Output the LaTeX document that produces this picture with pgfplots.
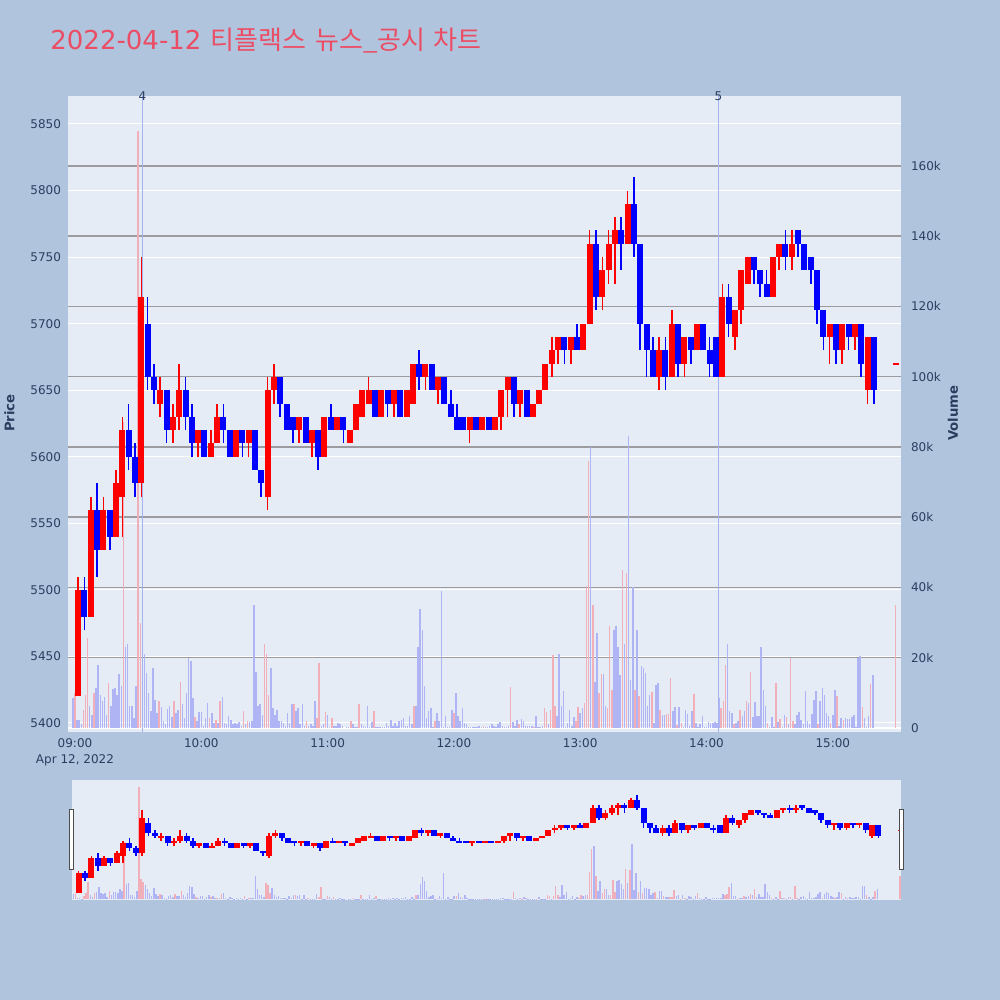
\documentclass[border=0pt]{standalone}
\usepackage{fontspec}
\setmainfont{DejaVu Sans}
\newfontfamily\cjk{Noto Sans CJK KR}
\usepackage{pgfplots}
\usepackage{pgfplotstable}
\pgfplotsset{compat=1.18}

\definecolor{figbg}{HTML}{B0C4DE}
\definecolor{plotbg}{HTML}{E5ECF6}
\definecolor{txt}{HTML}{2A3F5F}
\definecolor{ttl}{HTML}{EB4D64}
\definecolor{volr}{RGB}{240,175,185}
\definecolor{volb}{RGB}{175,180,245}
\definecolor{gridgray}{RGB}{155,155,160}
\definecolor{evt}{RGB}{165,178,240}

\newcommand{\tickfont}{\fontsize{6}{8}\selectfont}

% 3-minute candles: start minute after 09:00, open, high, low, close
\pgfplotstableread{
t o h l c
0 5420 5510 5420 5500
3 5500 5510 5470 5480
6 5480 5570 5480 5560
9 5560 5580 5510 5530
12 5530 5570 5530 5560
15 5560 5560 5530 5540
18 5540 5590 5540 5580
21 5570 5630 5540 5620
24 5620 5640 5590 5600
27 5600 5610 5570 5580
30 5580 5750 5570 5720
33 5700 5720 5650 5660
36 5660 5670 5640 5650
39 5640 5660 5630 5650
42 5650 5650 5610 5620
45 5620 5640 5610 5630
48 5630 5670 5620 5650
51 5650 5660 5620 5630
54 5630 5640 5600 5610
57 5610 5620 5600 5620
60 5620 5620 5600 5600
63 5600 5620 5600 5610
66 5610 5640 5610 5630
69 5630 5640 5610 5620
72 5620 5620 5600 5600
75 5600 5620 5600 5620
78 5620 5620 5600 5610
81 5610 5620 5600 5620
84 5620 5620 5590 5590
87 5590 5590 5570 5580
90 5570 5660 5560 5650
93 5650 5670 5640 5660
96 5660 5660 5630 5640
99 5640 5640 5620 5620
102 5630 5630 5610 5620
105 5620 5630 5610 5630
108 5630 5630 5610 5610
111 5610 5620 5600 5620
114 5620 5620 5590 5600
117 5600 5630 5600 5630
120 5630 5640 5620 5620
123 5620 5630 5620 5630
126 5630 5630 5610 5620
129 5610 5620 5610 5620
132 5620 5640 5620 5640
135 5630 5650 5630 5650
138 5640 5660 5640 5650
141 5650 5650 5630 5630
144 5630 5650 5630 5650
147 5650 5650 5630 5640
150 5640 5650 5630 5650
153 5650 5650 5630 5630
156 5630 5650 5630 5650
159 5640 5670 5640 5670
162 5670 5680 5650 5660
165 5660 5670 5650 5670
168 5670 5670 5650 5650
171 5650 5660 5640 5660
174 5660 5660 5640 5640
177 5640 5650 5630 5630
180 5630 5640 5620 5620
183 5630 5630 5620 5620
186 5620 5630 5610 5630
189 5630 5630 5620 5620
192 5620 5630 5620 5630
195 5630 5630 5620 5620
198 5620 5630 5620 5630
201 5630 5650 5620 5650
204 5650 5660 5630 5660
207 5660 5660 5630 5640
210 5640 5650 5630 5650
213 5650 5650 5630 5630
216 5630 5640 5630 5640
219 5640 5650 5640 5650
222 5650 5670 5650 5670
225 5670 5690 5660 5680
228 5680 5690 5670 5690
231 5690 5690 5670 5680
234 5680 5690 5670 5690
237 5690 5700 5680 5680
240 5680 5700 5680 5700
243 5700 5770 5700 5760
246 5760 5770 5710 5720
249 5720 5750 5710 5740
252 5740 5770 5730 5760
255 5760 5780 5730 5770
258 5770 5780 5740 5760
261 5760 5800 5760 5790
264 5790 5810 5750 5760
267 5760 5760 5680 5700
270 5700 5700 5660 5680
273 5680 5690 5660 5660
276 5660 5690 5650 5680
279 5680 5690 5650 5660
282 5660 5710 5660 5700
285 5700 5700 5660 5670
288 5670 5690 5660 5690
291 5690 5690 5670 5680
294 5680 5700 5680 5700
297 5700 5700 5680 5680
300 5680 5690 5660 5670
303 5690 5690 5660 5660
306 5660 5730 5660 5720
309 5720 5730 5690 5700
312 5690 5710 5680 5710
315 5710 5740 5700 5740
318 5730 5750 5730 5750
321 5750 5750 5730 5740
324 5740 5740 5720 5730
327 5730 5740 5720 5720
330 5720 5750 5720 5750
333 5750 5760 5740 5760
336 5760 5770 5740 5750
339 5750 5770 5740 5760
342 5770 5770 5750 5760
345 5760 5760 5740 5740
348 5750 5750 5730 5740
351 5740 5740 5700 5710
354 5710 5710 5680 5690
357 5690 5700 5670 5700
360 5700 5700 5670 5680
363 5680 5700 5670 5700
366 5700 5700 5680 5690
369 5690 5700 5680 5700
372 5700 5700 5660 5670
375 5650 5690 5640 5690
378 5690 5690 5640 5650
388.5 5670 5670 5670 5670
}\candles

% volume per minute, thousands of shares; d=1 rising (red), d=0 falling (blue)
\pgfplotstableread[row sep=\\]{
t v d\\
0 8.6 0\\ 1 10 1\\ 2 2.4 0\\ 3 2.4 0\\ 4 1 0\\ 5 5.2 1\\ 6 9.5 1\\ 7 25.7 1\\ 8 6.2 0\\ 9 3.8 0\\
10 10 1\\ 11 11.4 0\\ 12 18 0\\ 13 9.3 0\\ 14 7.8 0\\ 15 8.8 0\\ 16 3.8 0\\ 17 12.9 1\\ 18 6.2 0\\ 19 11 0\\
20 11.4 0\\ 21 9.5 0\\ 22 15.4 0\\ 23 11.9 0\\ 24 87 1\\ 25 23 0\\ 26 24 0\\ 27 6.2 0\\ 28 6.2 0\\ 29 2.9 0\\
30 11.9 0\\ 31 170 1\\ 32 30 1\\ 33 26 1\\ 34 21 0\\ 35 15.7 0\\ 36 10 0\\ 37 4.8 0\\ 38 17 0\\ 39 8.1 0\\
40 4.3 0\\ 41 7.8 1\\ 42 5.9 0\\ 43 2.1 0\\ 44 1 0\\ 45 5.5 0\\ 46 6.2 0\\ 47 3 0\\ 48 7.6 1\\ 49 4.3 0\\
50 5.2 0\\ 51 13 1\\ 52 6.7 0\\ 53 2.9 0\\ 54 10 0\\ 55 20 0\\ 56 19 0\\ 57 8.6 0\\ 58 3 1\\ 59 1.9 0\\
60 4.6 0\\ 61 4.6 0\\ 62 0.5 0\\ 63 2.9 0\\ 64 7.1 0\\ 65 2.9 1\\ 66 4.3 0\\ 67 1.4 0\\ 68 2.4 1\\ 69 1.4 0\\
70 7.8 1\\ 71 8.8 0\\ 72 1.4 0\\ 73 1 0\\ 74 3.5 0\\ 75 2.4 0\\ 76 1 0\\ 77 1.4 0\\ 78 1 0\\ 79 1.7 0\\
80 0.5 0\\ 81 4.8 1\\ 82 1 0\\ 83 1.9 1\\ 84 1.7 0\\ 85 1.9 0\\ 86 35 0\\ 87 16 0\\ 88 6.2 0\\ 89 6.9 0\\
90 3.8 0\\ 91 24 1\\ 92 21 1\\ 93 9.5 1\\ 94 17 0\\ 95 5.7 0\\ 96 3.8 0\\ 97 5 0\\ 98 1.9 0\\ 99 1.9 0\\
100 1.4 0\\ 101 0.5 0\\ 102 4.3 0\\ 103 1.4 0\\ 104 6.7 0\\ 105 6.9 1\\ 106 4.8 0\\ 107 5.7 0\\ 108 1 0\\ 109 6.9 0\\
110 0.5 0\\ 111 2.1 1\\ 112 0.5 0\\ 113 1 0\\ 114 0.7 0\\ 115 7.8 0\\ 116 2.9 1\\ 117 18.5 1\\ 118 0.5 0\\ 119 1 0\\
120 4.6 1\\ 121 3.6 0\\ 122 0.2 0\\ 123 2.9 1\\ 124 0.5 0\\ 125 0.5 0\\ 126 1.4 0\\ 127 1 0\\ 128 0.5 0\\ 130 0.3 0\\
131 0.3 0\\ 132 2.1 1\\ 133 1 0\\ 134 0.3 0\\ 135 0.3 0\\ 136 6.7 1\\ 137 1 0\\ 138 0.7 0\\ 139 0.3 0\\ 140 6.2 0\\
141 0.3 0\\ 142 1.6 0\\ 143 4.8 1\\ 144 0.3 0\\ 145 0.3 0\\ 146 0.3 0\\ 147 0.3 0\\ 148 0.3 0\\ 149 1.4 0\\ 150 0.5 0\\
151 2.4 0\\ 152 0.5 0\\ 153 1.4 0\\ 154 0.5 0\\ 155 1.9 0\\ 156 2.4 0\\ 157 2.9 0\\ 158 0.7 0\\ 159 0.5 0\\ 160 3.3 0\\
161 1 0\\ 162 6.2 1\\ 163 6.2 0\\ 164 23 0\\ 165 34 0\\ 166 28 0\\ 167 12 0\\ 168 2.9 0\\ 169 4.8 0\\ 170 5.7 0\\
171 0.3 0\\ 172 2.1 1\\ 173 4.3 0\\ 174 1.9 0\\ 175 39 0\\ 176 0.2 0\\ 177 3.3 0\\ 178 0.3 0\\ 179 0.3 0\\ 180 5.2 0\\
181 4.3 1\\ 182 10 0\\ 183 3.3 0\\ 184 1.9 0\\ 185 5.7 0\\ 186 1.4 0\\ 187 1 0\\ 188 0.3 0\\ 189 0.3 0\\ 190 0.3 0\\
191 0.3 0\\ 192 0.3 0\\ 193 0.5 0\\ 194 0.3 0\\ 195 0.5 1\\ 196 0.3 0\\ 197 0.3 0\\ 198 0.5 0\\ 199 1 0\\ 200 0.5 0\\
201 0.3 0\\ 202 1.2 0\\ 203 1.7 0\\ 204 0.5 0\\ 205 0.3 0\\ 206 0.3 0\\ 207 0.5 0\\ 208 11.6 1\\ 209 1.6 0\\ 210 0.5 0\\
211 2.4 0\\ 212 1.1 1\\ 213 2.7 0\\ 214 2.1 0\\ 215 0.5 0\\ 216 0.5 0\\ 217 0.5 0\\ 218 0.5 0\\ 219 0.2 1\\ 220 3.3 0\\
221 0.3 0\\ 222 0.3 0\\ 223 0.5 0\\ 224 5.7 1\\ 225 4.6 1\\ 226 1 0\\ 227 5.2 1\\ 228 20.7 1\\ 229 6.2 1\\ 230 3.3 0\\
231 21 0\\ 232 6.4 0\\ 233 10.5 0\\ 234 0.3 0\\ 235 1.4 0\\ 236 5 0\\ 237 0.7 0\\ 238 3 0\\ 239 2.1 1\\ 240 5.9 1\\
241 4.3 0\\ 242 5.7 0\\ 243 7.1 1\\ 244 40.5 1\\ 245 76 1\\ 246 80 0\\ 247 35 1\\ 248 13 0\\ 249 27 0\\ 250 10 1\\
251 15.4 1\\ 252 15.4 0\\ 253 6.2 0\\ 254 5.7 1\\ 255 29 1\\ 256 10.7 1\\ 257 28 0\\ 258 29 0\\ 259 23 0\\ 260 15.2 0\\
261 45 1\\ 262 24 0\\ 263 44 1\\ 264 83 0\\ 265 13.8 0\\ 266 40 0\\ 267 10.7 1\\ 268 28 0\\ 269 9 1\\ 270 17.6 0\\
271 17 0\\ 272 15.7 0\\ 273 6.2 0\\ 274 9.5 0\\ 275 10.3 1\\ 276 1.4 0\\ 277 12.2 0\\ 278 12.7 0\\ 279 5 1\\ 280 3.6 0\\
281 3.6 0\\ 282 4 1\\ 283 4.1 1\\ 284 14.3 1\\ 285 4.8 0\\ 286 6 0\\ 287 0.8 1\\ 288 6 0\\ 289 1.4 1\\ 290 0.3 0\\
291 5 0\\ 292 4 0\\ 293 0.5 0\\ 294 4.8 0\\ 295 9.7 1\\ 296 1.4 0\\ 297 0.3 0\\ 298 1 0\\ 299 3.3 0\\ 300 0.3 0\\
301 0.3 0\\ 302 1.6 0\\ 303 1.4 0\\ 304 1.5 0\\ 305 1.6 0\\ 306 1.4 0\\ 307 8.6 0\\ 308 5.7 1\\ 309 7.6 1\\ 310 18 1\\
311 24 0\\ 312 4.8 0\\ 313 4.3 0\\ 314 1 1\\ 315 1.4 0\\ 316 1.9 0\\ 317 5 1\\ 318 3.3 0\\ 319 4.8 0\\ 320 7.6 1\\
321 7.1 0\\ 322 16 1\\ 323 3 0\\ 324 7.3 0\\ 325 3.3 0\\ 326 3.3 0\\ 327 23 0\\ 328 10.7 0\\ 329 6.4 0\\ 330 1.4 1\\
331 0.3 0\\ 332 3 0\\ 333 0.3 0\\ 334 12.7 1\\ 335 1.6 0\\ 336 2.6 1\\ 337 0.3 0\\ 338 3.6 0\\ 339 3 1\\ 340 1 0\\
341 20 1\\ 342 2.1 1\\ 343 1 0\\ 344 3.8 0\\ 345 4.6 0\\ 346 2.4 0\\ 347 1.1 0\\ 348 10.5 0\\ 349 1.9 0\\ 350 1.2 0\\
351 4.1 0\\ 352 8.1 0\\ 353 10.5 0\\ 354 1.2 1\\ 355 7.6 0\\ 356 11.4 0\\ 357 9.5 0\\ 358 4.3 0\\ 359 3.5 0\\ 360 1.4 1\\
361 3.6 0\\ 362 10.8 0\\ 363 9 1\\ 364 0.5 0\\ 365 2.9 0\\ 366 2.4 1\\ 367 2.9 0\\ 368 2.6 0\\ 369 2.6 0\\ 370 3.1 0\\
371 3.8 0\\ 372 0.3 0\\ 373 20 0\\ 374 20.5 0\\ 375 5.9 1\\ 376 2.9 0\\ 377 0.2 0\\ 378 3.3 0\\ 379 12.4 1\\ 380 15 0\\
390.8 35 1\\
}\vol

% candles as thick error bars (body) over thin error bars (wick)
\newcommand{\candleplots}[2]{%
  \addplot[draw=none, restrict expr to domain={\thisrow{c}-\thisrow{o}}{0:1000},
    error bars/.cd, y dir=both, y explicit, error mark=none,
    error bar style={draw=red, line width=#2}]
    table[x expr=\thisrow{t}+1.5, y expr=0.5*(\thisrow{h}+\thisrow{l}),
      y error expr=0.5*(\thisrow{h}-\thisrow{l})] {\candles};
  \addplot[draw=none, restrict expr to domain={\thisrow{c}-\thisrow{o}}{0:1000},
    error bars/.cd, y dir=both, y explicit, error mark=none,
    error bar style={draw=red, line width=#1}]
    table[x expr=\thisrow{t}+1.5, y expr=0.5*(\thisrow{o}+\thisrow{c}),
      y error expr={max(0.5*abs(\thisrow{c}-\thisrow{o}),0.8)}] {\candles};
  \addplot[draw=none, restrict expr to domain={\thisrow{c}-\thisrow{o}}{-1000:-0.5},
    error bars/.cd, y dir=both, y explicit, error mark=none,
    error bar style={draw=blue, line width=#2}]
    table[x expr=\thisrow{t}+1.5, y expr=0.5*(\thisrow{h}+\thisrow{l}),
      y error expr=0.5*(\thisrow{h}-\thisrow{l})] {\candles};
  \addplot[draw=none, restrict expr to domain={\thisrow{c}-\thisrow{o}}{-1000:-0.5},
    error bars/.cd, y dir=both, y explicit, error mark=none,
    error bar style={draw=blue, line width=#1}]
    table[x expr=\thisrow{t}+1.5, y expr=0.5*(\thisrow{o}+\thisrow{c}),
      y error expr=0.5*abs(\thisrow{c}-\thisrow{o})] {\candles};
}
\newcommand{\volumeplots}{%
  \addplot[ycomb, volr, line width=0.75pt, restrict expr to domain={\thisrow{d}}{0.5:1.5}]
    table[x expr=\thisrow{t}-1, y=v] {\vol};
  \addplot[ycomb, volb, line width=0.75pt, restrict expr to domain={\thisrow{d}}{-0.5:0.5}]
    table[x expr=\thisrow{t}-1, y=v] {\vol};
}

\begin{document}
\begin{tikzpicture}
\fill[figbg] (0,0) rectangle (500pt,500pt);
\useasboundingbox (0,0) rectangle (500pt,500pt);
\fill[plotbg] (34pt,134pt) rectangle (450.5pt,452pt);
\fill[plotbg] (36pt,50pt) rectangle (450.5pt,110pt);

\node[anchor=base west, text=ttl, inner sep=0pt] at (25pt,475pt)
  {\fontsize{13}{15}\selectfont 2022-04-12\hspace{4.5pt}{\cjk\fontsize{13}{15}\selectfont 티플랙스\hspace{4.5pt}뉴스\_공시\hspace{4pt}차트}};
\node[rotate=90, text=txt, font=\fontsize{6.6}{8}\selectfont\bfseries] at (4.7pt,293.5pt) {Price};
\node[rotate=90, text=txt, font=\fontsize{6.6}{8}\selectfont\bfseries] at (476.5pt,293.5pt) {Volume};

% price axis: white grid and labels
\begin{axis}[
  at={(34pt,134pt)}, anchor=south west, scale only axis,
  width=416.5pt, height=318pt,
  xmin=-3.325, xmax=392.4, ymin=5393.24, ymax=5871.04,
  axis line style={draw=none}, major tick style={draw=none},
  ytick={5400,5450,...,5850},
  ymajorgrids, major grid style={white, line width=0.5pt},
  xtick={0,60,...,360},
  xticklabels={{09:00\\Apr 12, 2022},10:00,11:00,12:00,13:00,14:00,15:00},
  xticklabel style={align=center, font=\tickfont, text=txt},
  yticklabel style={font=\tickfont, text=txt},
  /pgf/number format/assume math mode=true,
  /pgf/number format/1000 sep={},
]
\end{axis}

% volume axis (right)
\begin{axis}[
  at={(34pt,134pt)}, anchor=south west, scale only axis,
  width=416.5pt, height=318pt,
  xmin=-3.325, xmax=392.4, ymin=-1.139, ymax=179.93,
  hide x axis, axis y line*=right,
  axis line style={draw=none}, major tick style={draw=none},
  ytick={20,40,...,160},
  yticklabels={20k,40k,60k,80k,100k,120k,140k,160k},
  ymajorgrids, major grid style={gridgray, line width=0.75pt},
  extra y ticks={0}, extra y tick labels={0},
  extra y tick style={grid=major, major grid style={white, line width=0.8pt}},
  yticklabel style={font=\tickfont, text=txt, xshift=1.5pt},
]
\volumeplots
\end{axis}

% candles and news markers
\begin{axis}[
  at={(34pt,134pt)}, anchor=south west, scale only axis,
  width=416.5pt, height=318pt,
  xmin=-3.325, xmax=392.4, ymin=5393.24, ymax=5871.04,
  hide axis, clip=false,
]
\addplot[evt, line width=0.75pt] coordinates {(32.07,5393.24) (32.07,5871.04)}
  node[pos=1, text=txt, font=\tickfont] {4};
\addplot[evt, line width=0.75pt] coordinates {(305.7,5393.24) (305.7,5871.04)}
  node[pos=1, text=txt, font=\tickfont] {5};
\candleplots{3pt}{0.8pt}
\end{axis}

% range slider
\begin{axis}[
  at={(36pt,50pt)}, anchor=south west, scale only axis,
  width=414.5pt, height=60pt,
  xmin=-1.65, xmax=390.2, ymin=-1.139, ymax=179.93,
  hide axis,
]
\volumeplots
\end{axis}
\begin{axis}[
  at={(36pt,50pt)}, anchor=south west, scale only axis,
  width=414.5pt, height=60pt,
  xmin=-1.65, xmax=390.2, ymin=5393.24, ymax=5871.04,
  hide axis,
]
\candleplots{3pt}{0.8pt}
\end{axis}

\filldraw[fill=white, draw=black!70, line width=0.5pt] (34.6pt,65pt) rectangle (36.9pt,95pt);
\filldraw[fill=white, draw=black!70, line width=0.5pt] (449.6pt,65pt) rectangle (451.9pt,95pt);
\end{tikzpicture}
\end{document}
